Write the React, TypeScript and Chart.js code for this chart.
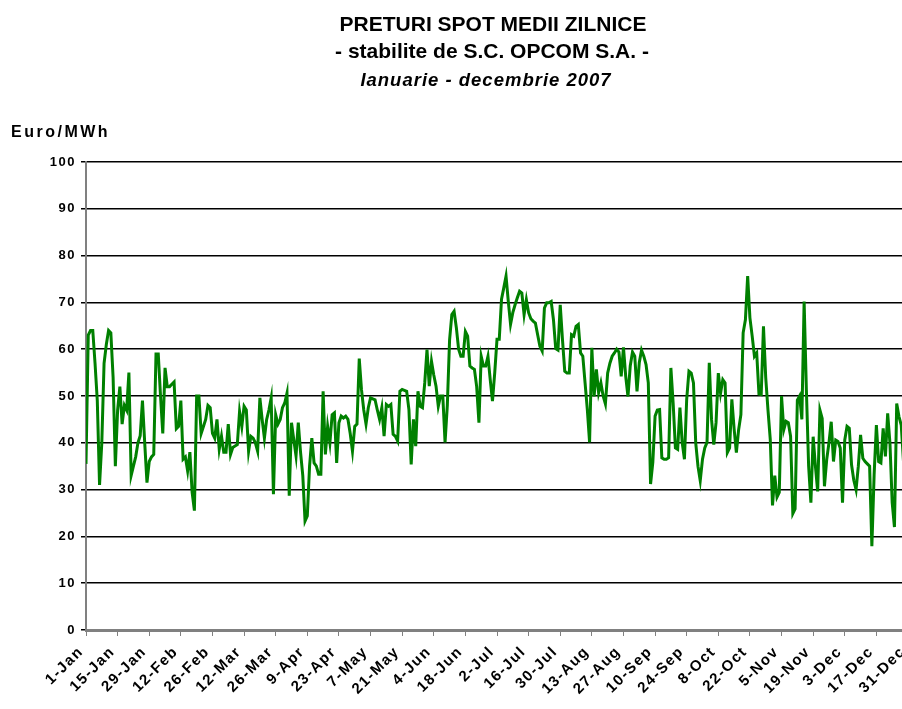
import React, { useEffect, useRef } from "react";
import { Chart, registerables } from "chart.js";

Chart.register(...registerables);

const TITLE_LINES = ["PRETURI SPOT MEDII ZILNICE", "- stabilite de S.C. OPCOM S.A. -"];
const SUBTITLE = "Ianuarie - decembrie 2007";
const Y_UNIT = "Euro/MWh";

const TICK_STEP_DAYS = 14;
const TICK_LABELS = [
  "1-Jan", "15-Jan", "29-Jan", "12-Feb", "26-Feb", "12-Mar", "26-Mar", "9-Apr", "23-Apr",
  "7-May", "21-May", "4-Jun", "18-Jun", "2-Jul", "16-Jul", "30-Jul", "13-Aug", "27-Aug",
  "10-Sep", "24-Sep", "8-Oct", "22-Oct", "5-Nov", "19-Nov", "3-Dec", "17-Dec", "31-Dec",
];

// Daily average spot prices (Euro/MWh), 1 Jan - 31 Dec 2007
const PRICES = [
  35.5, 63, 64, 64, 57, 49, 31, 40, 57, 61,
  64, 63.5, 54, 35, 47, 52, 44, 48, 47, 55,
  33, 35, 37, 40, 41.5, 49, 40, 31.5, 36, 37,
  37.5, 59, 59, 50, 42, 56, 52, 52, 52.5, 53,
  43, 43.5, 49, 36.5, 37, 34, 38, 29.4, 25.5, 50,
  50, 42, 43.5, 45, 48, 47.5, 42, 41, 45, 38.6,
  41.4, 38, 38, 44, 37.5, 39, 39.3, 39.6, 46.7, 43.5,
  47.8, 47, 38.2, 41.4, 41, 40, 38.2, 49.6, 45, 41,
  45, 47, 49.6, 29, 46, 44, 45, 47.5, 48.5, 50.6,
  28.7, 44.3, 40.7, 37.2, 44.3, 38, 33, 23.3, 24.4, 35,
  41, 35.7, 35, 33.3, 33.3, 51, 37.5, 43.5, 40, 46,
  46.4, 35.7, 44.3, 45.7, 45.3, 45.7, 45, 42, 38.2, 43.5,
  44, 58, 51.3, 47, 44, 47.5, 49.6, 49.4, 49.2, 47,
  45, 47.5, 41.4, 48.2, 47.8, 48.2, 41.8, 41.4, 40.4, 51,
  51.4, 51.2, 51, 47.1, 35.4, 45, 39.3, 51, 47.8, 47.5,
  52.8, 59.9, 52.1, 57.4, 54.5, 52.1, 47.8, 50, 50, 40.1,
  48, 62, 67.4, 68.1, 64.6, 60, 58.5, 58.5, 63.8, 62.8,
  56.4, 56, 55.7, 52, 44.3, 58.5, 56.4, 56.4, 58.5, 53.5,
  48.9, 55, 62.1, 62.1, 70.7, 73.1, 75.6, 70.2, 65.3, 67.8,
  69.5, 71, 72.4, 72, 67.4, 70.6, 67.8, 66.5, 66, 65.6,
  63.1, 60.6, 59.6, 68.8, 69.9, 69.9, 70.2, 66.3, 60.1, 59.8,
  69.5, 62, 55.3, 54.9, 54.9, 63.1, 62.8, 64.9, 65.3, 59.2,
  58.5, 52.8, 47.1, 40.1, 60.3, 49.9, 55.7, 50.7, 52.8, 50,
  48.3, 54.9, 57, 58.5, 59.2, 60, 59.4, 54.2, 60.4, 54.2,
  49.9, 56.4, 59.4, 58.5, 51, 57.1, 59.8, 58.5, 56.7, 52.8,
  31.2, 35.8, 45.7, 47, 47.1, 36.8, 36.5, 36.5, 36.8, 56,
  48.5, 38.9, 38.6, 47.5, 40.1, 36.5, 49.3, 55.3, 54.9, 52.8,
  40, 35, 31.9, 36.5, 38.9, 40.1, 57.1, 45, 39.6, 44.3,
  54.9, 50.6, 53.5, 52.8, 37.9, 38.9, 49.3, 43, 37.9, 42.8,
  46, 63.5, 66.3, 75.6, 66.7, 62.8, 58.5, 59.2, 50.4, 50.3,
  64.9, 53.9, 47, 40.8, 26.6, 33, 28.4, 29.4, 50, 42.8,
  44.6, 44.3, 41.4, 24.9, 25.9, 49.1, 50, 45, 70.2, 51.3,
  35, 27.2, 41.3, 35, 29.6, 47, 45.2, 30.7, 36.4, 40,
  44.5, 36, 40.6, 40.3, 38.9, 27.2, 40.6, 43.5, 43.1, 35.3,
  32, 30, 35, 41.7, 36.7, 36, 35.5, 35, 17.9, 33.2,
  43.8, 36, 35.7, 43.1, 37.1, 46.3, 40, 27.2, 22, 48.4,
  45.6, 43.8, 36, 38, 40,
];

const FONT = '"Liberation Sans", Arial, Helvetica, sans-serif';

export default function App() {
  const ref = useRef<HTMLCanvasElement>(null);

  useEffect(() => {
    const canvas = ref.current;
    if (!canvas) return;

    const textPlugin = {
      id: "headerTexts",
      beforeDraw(chart: any) {
        const ctx = chart.ctx as CanvasRenderingContext2D & { letterSpacing?: string };
        ctx.save();
        ctx.fillStyle = "#000";
        ctx.textBaseline = "alphabetic";
        ctx.textAlign = "center";
        ctx.letterSpacing = "0px";
        ctx.font = `bold 21px ${FONT}`;
        ctx.fillText(TITLE_LINES[0], 493, 31);
        ctx.fillText(TITLE_LINES[1], 492, 58);
        ctx.letterSpacing = "1px";
        ctx.font = `italic bold 18.5px ${FONT}`;
        ctx.fillText(SUBTITLE, 486, 86);
        ctx.letterSpacing = "2.5px";
        ctx.textAlign = "left";
        ctx.font = `bold 16px ${FONT}`;
        ctx.fillText(Y_UNIT, 11, 137);
        ctx.restore();
        // spacing used by the axis tick labels drawn afterwards
        ctx.letterSpacing = "1.5px";
      },
      afterDraw(chart: any) {
        (chart.ctx as any).letterSpacing = "0px";
      },
    };

    const chart = new Chart(canvas, {
      type: "line",
      data: {
        datasets: [
          {
            data: PRICES.map((v, i) => ({ x: i, y: v })),
            borderColor: "#008000",
            borderWidth: 3,
            pointRadius: 0,
            tension: 0,
            fill: false,
          },
        ],
      },
      options: {
        animation: false,
        responsive: false,
        devicePixelRatio: 1,
        layout: { padding: { top: 162, right: 78, bottom: 0, left: 0 } },
        plugins: {
          legend: { display: false },
          tooltip: { enabled: false },
          title: { display: false },
        },
        scales: {
          x: {
            type: "linear",
            min: 0,
            max: PRICES.length - 1,
            afterFit(scale: any) {
              scale.height = 79;
            },
            afterBuildTicks(scale: any) {
              scale.ticks = TICK_LABELS.map((_, i) => ({ value: i * TICK_STEP_DAYS }));
            },
            ticks: {
              autoSkip: false,
              maxRotation: 45,
              minRotation: 45,
              padding: 7,
              labelOffset: -5,
              color: "#000",
              font: { family: FONT, weight: "bold", size: 15 },
              callback: (v: any) => TICK_LABELS[Math.round(Number(v) / TICK_STEP_DAYS)],
            },
            grid: {
              drawOnChartArea: false,
              drawTicks: true,
              tickLength: 6,
              color: "#808080",
              lineWidth: 1,
            },
            border: { display: true, color: "#808080", width: 3 },
          },
          y: {
            min: 0,
            max: 100,
            afterFit(scale: any) {
              scale.width = 86;
            },
            ticks: {
              stepSize: 10,
              padding: 5,
              color: "#000",
              font: { family: FONT, weight: "bold", size: 13 },
            },
            grid: {
              color: "#000",
              lineWidth: 1.5,
              tickLength: 5,
            },
            border: { display: true, color: "#808080", width: 2 },
          },
        },
      },
      plugins: [textPlugin],
    } as any);

    return () => chart.destroy();
  }, []);

  return (
    <div
      style={{
        position: "fixed",
        left: 0,
        top: 0,
        width: 902,
        height: 709,
        overflow: "hidden",
        background: "#fff",
      }}
    >
      <canvas ref={ref} width={986} height={709} style={{ display: "block", width: 986, height: 709 }} />
    </div>
  );
}
